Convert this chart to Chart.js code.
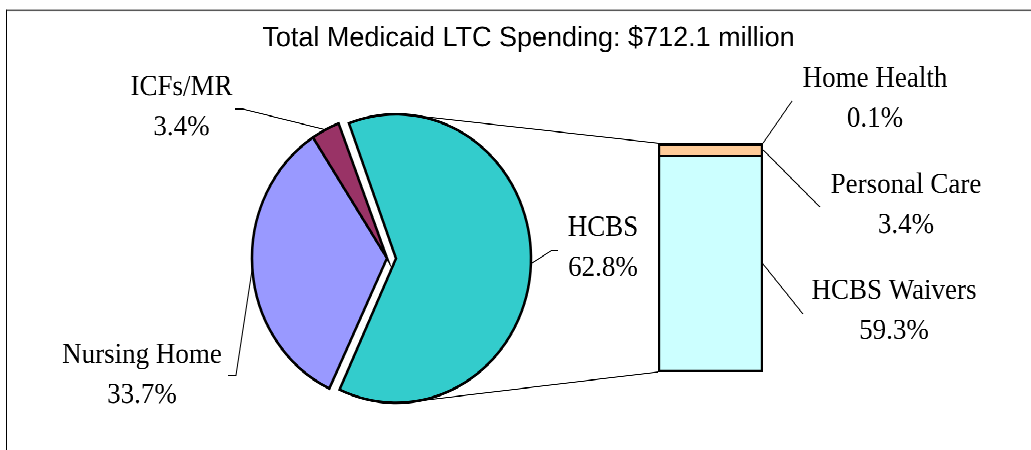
<!doctype html>
<html lang="en">
  <head>
    <meta charset="utf-8">
    <title>Total Medicaid LTC Spending</title>
    <script src="https://cdn.jsdelivr.net/npm/chart.js"></script>
    <style>
      html, body { margin: 0; padding: 0; background: #fff; overflow: hidden; }
      #wrap { position: relative; width: 1031px; height: 450px; overflow: hidden; }
      /* the original picture is slightly stretched vertically */
      #stage { position: absolute; left: 0; top: 0; width: 1031px; height: 421px;
               transform: scale(1, 1.0689); transform-origin: 0 0; }
      #frame { position: absolute; left: 6px; top: 9px; width: 1100px; height: 500px;
               border-left: 1px solid #000; border-top: 1px solid #000; }
      canvas { position: absolute; left: 0; top: 0; }
    </style>
  </head>
  <body>
    <div id="wrap">
      <div id="stage">
        <div id="frame"></div>
        <canvas id="pieChart" width="1031" height="421"></canvas>
        <canvas id="barChart" width="1031" height="421"></canvas>
      </div>
    </div>
    <script>
      const chartTitle = 'Total Medicaid LTC Spending: $712.1 million';

      const pieLabels = ['HCBS', 'Nursing Home', 'ICFs/MR'];
      const pieValues = [62.8, 33.7, 3.4];

      // breakdown of the HCBS slice, stacked from the bottom
      const barLabels = ['HCBS Waivers', 'Personal Care', 'Home Health'];
      const barValues = [59.3, 3.4, 0.1];

      const pieColors = ['#33CCCC', '#9999FF', '#993366'];
      const barColors = ['#CCFFFF', '#FFCC99', '#FFCC99'];
      const barBorders = [
        { left: 2.5, right: 2.5, bottom: 2.5, top: 1.25 },
        { left: 2.5, right: 2.5, bottom: 1.25, top: 2.5 },
        { left: 2.5, right: 2.5, bottom: 0, top: 2.5 }
      ];

      // label placement: text centre x, first baseline y, and the bend of the leader line
      const pieLabelSpots = [
        { x: 603, y: 220.5, lead: [[558, 234], [552, 234]] },
        { x: 142, y: 339.6, lead: [[228, 351], [236, 351]] },
        { x: 181.5, y: 88.9, lead: [[235, 102], [243, 102]] }
      ];
      const barLabelSpots = [
        { x: 894, y: 279.7, lead: [803, 293.8] },
        { x: 906, y: 180.6, lead: [820, 193.7] },
        { x: 875, y: 81.1, lead: [792, 94.5] }
      ];
      const lineGap = 37.5;
      const labelFont = '27px "Liberation Serif"';
      const titleFont = '27px "Liberation Sans"';

      const pct = v => v.toFixed(1) + '%';

      // where an arc is really painted (offset moves the centre by offset/4)
      function arcGeom(arc) {
        const off = (arc.options.offset || 0) / 4;
        const fix = 1 - Math.sin(Math.min(Math.PI, arc.circumference));
        const mid = (arc.startAngle + arc.endAngle) / 2;
        return {
          cx: arc.x + Math.cos(mid) * off,
          cy: arc.y + Math.sin(mid) * off,
          r: arc.outerRadius + off * fix,
          mid: mid
        };
      }

      function tangentPoint(g, px, py, upper) {
        const dx = px - g.cx, dy = py - g.cy;
        const d = Math.hypot(dx, dy);
        const theta = Math.atan2(dy, dx);
        const alpha = Math.acos(g.r / d);
        const a = upper ? theta - alpha : theta + alpha;
        return [g.cx + Math.cos(a) * g.r, g.cy + Math.sin(a) * g.r];
      }

      function drawLines(ctx, texts, x, y) {
        texts.forEach((t, k) => ctx.fillText(t, x, y + k * lineGap));
      }

      const pieChart = new Chart(document.getElementById('pieChart'), {
        type: 'pie',
        data: {
          labels: pieLabels,
          datasets: [{
            data: pieValues,
            backgroundColor: pieColors,
            borderColor: '#000',
            borderWidth: 2.5,
            borderJoinStyle: 'miter',
            offset: [36, 0, 0]
          }]
        },
        options: {
          responsive: false,
          animation: false,
          devicePixelRatio: 2,
          events: [],
          rotation: -21,
          radius: 135,
          layout: { padding: { left: 0, right: 257, top: 62, bottom: 0 } },
          plugins: { legend: { display: false }, tooltip: { enabled: false } }
        },
        plugins: [{
          // keep the exploded slice at the same radius as the others
          id: 'keepRadius',
          afterDatasetsUpdate(chart) {
            chart.getDatasetMeta(0).data.forEach(arc => {
              const off = (arc.options.offset || 0) / 4;
              const fix = 1 - Math.sin(Math.min(Math.PI, arc.circumference));
              arc.outerRadius -= off * fix;
            });
          }
        }]
      });

      const overlay = {
        id: 'overlay',
        afterDraw(chart) {
          const ctx = chart.ctx;
          ctx.save();
          ctx.fillStyle = '#000';
          ctx.strokeStyle = '#000';
          ctx.lineWidth = 1;
          ctx.textAlign = 'center';
          ctx.textBaseline = 'alphabetic';

          ctx.font = titleFont;
          ctx.fillText(chartTitle, 528.5, 43.7);

          // pie labels and leaders
          ctx.font = labelFont;
          const arcs = pieChart.getDatasetMeta(0).data;
          arcs.forEach((arc, i) => {
            const g = arcGeom(arc);
            const s = pieLabelSpots[i];
            drawLines(ctx, [pieLabels[i], pct(pieValues[i])], s.x, s.y);
            ctx.beginPath();
            ctx.moveTo(s.lead[0][0], s.lead[0][1]);
            ctx.lineTo(s.lead[1][0], s.lead[1][1]);
            ctx.lineTo(g.cx + Math.cos(g.mid) * g.r, g.cy + Math.sin(g.mid) * g.r);
            ctx.stroke();
          });

          // bar labels and leaders
          const bars = barLabels.map((_, i) => chart.getDatasetMeta(i).data[0]);
          bars.forEach((bar, i) => {
            const s = barLabelSpots[i];
            drawLines(ctx, [barLabels[i], pct(barValues[i])], s.x, s.y);
            const right = bar.x + bar.width / 2;
            const y = i === bars.length - 1 ? bar.y : (bar.y + bar.base) / 2;
            ctx.beginPath();
            ctx.moveTo(right, y);
            ctx.lineTo(s.lead[0], s.lead[1]);
            ctx.stroke();
          });

          // connectors from the exploded slice to the bar
          const g = arcGeom(arcs[0]);
          const left = bars[0].x - bars[0].width / 2;
          const top = Math.min(...bars.map(b => b.y));
          const bottom = bars[0].base;
          const t1 = tangentPoint(g, left, top, true);
          const t2 = tangentPoint(g, left, bottom, false);
          ctx.beginPath();
          ctx.moveTo(t1[0], t1[1]);
          ctx.lineTo(left, top);
          ctx.moveTo(t2[0], t2[1]);
          ctx.lineTo(left, bottom);
          ctx.stroke();
          ctx.restore();
        }
      };

      const barChart = new Chart(document.getElementById('barChart'), {
        type: 'bar',
        data: {
          labels: [pieLabels[0]],
          datasets: barLabels.map((label, i) => ({
            label: label,
            data: [barValues[i]],
            backgroundColor: barColors[i],
            borderColor: '#000',
            borderWidth: barBorders[i],
            borderSkipped: false,
            barPercentage: 1,
            categoryPercentage: 1
          }))
        },
        options: {
          responsive: false,
          animation: false,
          devicePixelRatio: 2,
          events: [],
          layout: { padding: { left: 658, right: 268, top: 134, bottom: 73 } },
          plugins: { legend: { display: false }, tooltip: { enabled: false } },
          scales: {
            x: { display: false, stacked: true },
            y: { display: false, stacked: true, min: 0, max: pieValues[0] }
          }
        },
        plugins: [overlay]
      });
    </script>
  </body>
</html>
